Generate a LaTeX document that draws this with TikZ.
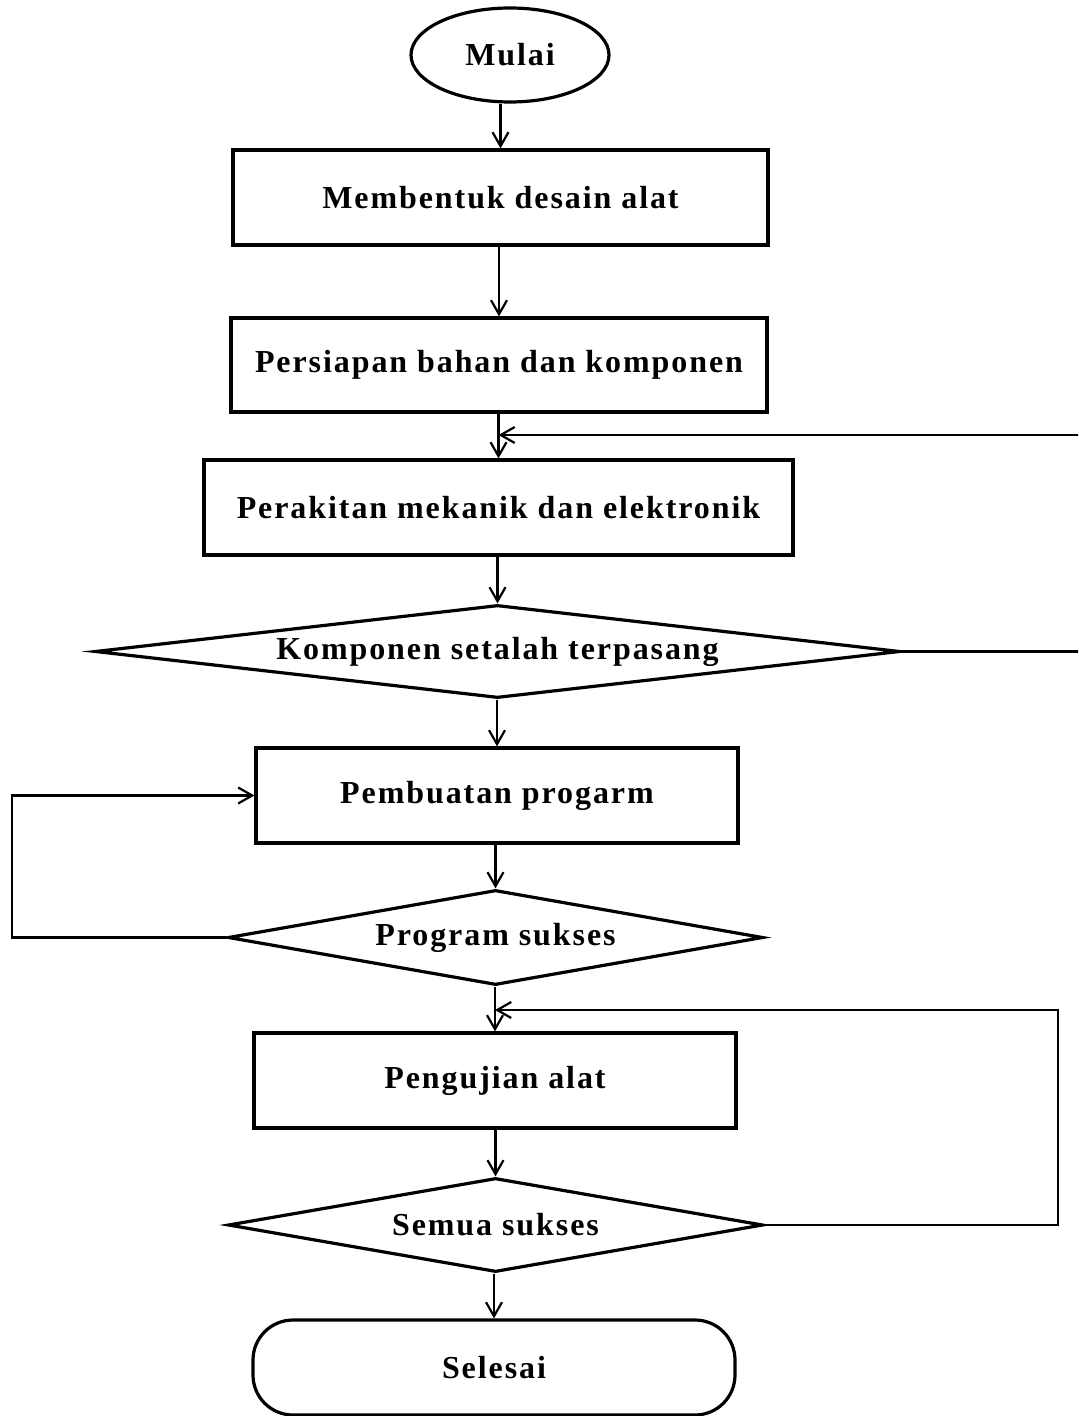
\documentclass[tikz,border=0pt]{standalone}
\usepackage{fontspec}
\setmainfont{Liberation Serif}[LetterSpace=6]
\usetikzlibrary{shapes.geometric,arrows.meta}
\begin{document}
\begin{tikzpicture}[x=0.5pt,y=-0.5pt,
  box/.style={draw,line width=1.6pt,inner sep=0pt,font=\bfseries\fontsize{16}{19}\selectfont},
  proc/.style={box,rectangle,minimum height=47.5pt},
  dec/.style={box,diamond},
  arr/.style={line width=1.1pt,-{Straight Barb[length=7pt,width=8pt,line width=1.1pt]}},
  ln/.style={line width=1.1pt}]
\clip (0,0) rectangle (1078,1416);
\fill[white] (0,0) rectangle (1078,1416);
\node[box,ellipse,minimum width=99pt,minimum height=47pt] (mulai) at (510,55) {Mulai};
\node[proc,minimum width=267.5pt] (b1) at (500.5,197.5) {Membentuk desain alat};
\node[proc,minimum width=268pt,minimum height=47pt] (b2) at (499,365) {Persiapan bahan dan komponen};
\node[proc,minimum width=294.5pt] (b3) at (498.5,507.5) {Perakitan mekanik dan elektronik};
\node[dec,aspect=8.66,minimum width=402.5pt,minimum height=46.5pt] (d1) at (497.5,651.5) {Komponen setalah terpasang};
\node[proc,minimum width=241pt] (b4) at (497,795.5) {Pembuatan progarm};
\node[dec,aspect=5.63,minimum width=267.5pt,minimum height=47.5pt] (d2) at (495.5,937.5) {Program sukses};
\node[proc,minimum width=241pt] (b5) at (495,1080.5) {Pengujian alat};
\node[dec,aspect=5.69,minimum width=267.5pt,minimum height=47pt] (d3) at (495.5,1225) {Semua sukses};
\node[box,rectangle,rounded corners=20pt,minimum width=241pt,minimum height=47.5pt] (end) at (494,1367.5) {Selesai};

\draw[arr] (b1.north |- mulai.south) -- (b1.north);
\draw[arr] (b2.north |- b1.south) -- (b2.north);
\draw[arr] (b3.north |- b2.south) -- (b3.north);
\draw[arr] (d1.north |- b3.south) -- (d1.north);
\draw[arr] (b4.north |- d1.south) -- (b4.north);
\draw[arr] (d2.north |- b4.south) -- (d2.north);
\draw[arr] (b5.north |- d2.south) -- (b5.north);
\draw[arr] (d3.north |- b5.south) -- (d3.north);
\draw[arr] (end.north |- d3.south) -- (end.north);

\coordinate (r1) at (1090,651.5);
\coordinate (j1) at (b3.north |- 0,435);
\draw[arr] (d1.east) -- (r1) |- (j1);

\coordinate (l2) at (12,937.5);
\draw[arr] (d2.west) -- (l2) |- (b4.west);

\coordinate (r3) at (1058,1225);
\coordinate (j3) at (b5.north |- 0,1010);
\draw[arr] (d3.east) -- (r3) |- (j3);
\end{tikzpicture}
\end{document}
